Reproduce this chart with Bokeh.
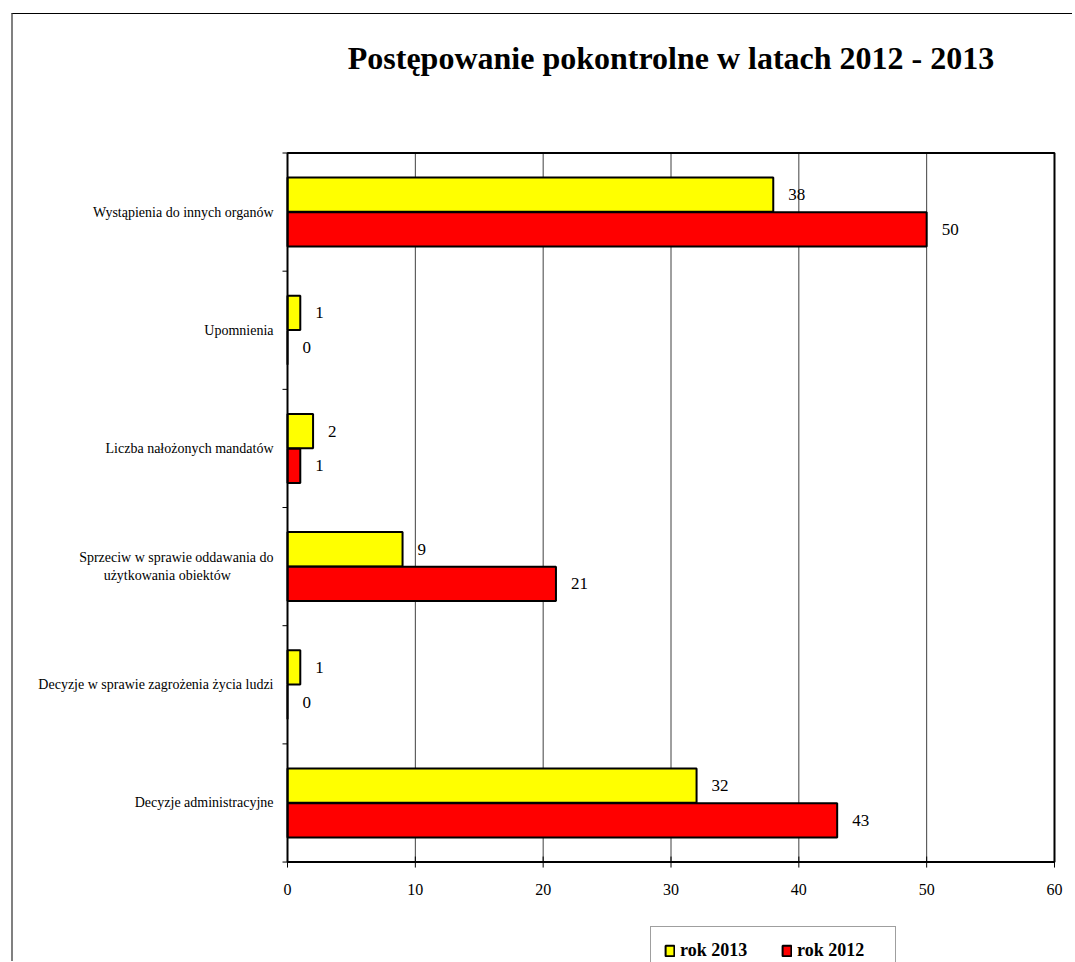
from bokeh.plotting import figure
from bokeh.models import ColumnDataSource, Range1d, LabelSet, Legend, LegendItem, Label
from bokeh.transform import dodge
from bokeh.embed import file_html
from bokeh.resources import INLINE
import math

NB = "\u00a0"
categories = [
    "Decyzje administracyjne",
    "Decyzje w sprawie zagrożenia życia ludzi",
    "Sprzeciw w sprawie oddawania do\n" + NB * 7 + "użytkowania obiektów",
    "Liczba nałożonych mandatów",
    "Upomnienia",
    "Wystąpienia do innych organów",
]
v2013 = [32, 1, 9, 2, 1, 38]
v2012 = [43, 0, 21, 1, 0, 50]
x_ticks = [0, 10, 20, 30, 40, 50, 60]
series_names = ["rok 2013", "rok 2012"]
title_text = "Postępowanie pokontrolne w latach 2012 - 2013"

n = len(categories)
ypos = [i + 0.5 for i in range(n)]
src = ColumnDataSource(dict(
    y=ypos, cat=categories, v2013=v2013, v2012=v2012,
    t2013=[str(v) for v in v2013], t2012=[str(v) for v in v2012],
))
tick_src = ColumnDataSource(dict(x=x_ticks, y=[0] * len(x_ticks),
                                 top=[n] * len(x_ticks),
                                 t=[str(v) for v in x_ticks]))
bounds = list(range(n + 1))

SERIF = "Liberation Serif"
xmin, xmax = x_ticks[0], x_ticks[-1]
PX = 12.783            # pixels per x unit (style constant)
TICK = 5 / PX          # outward tick length in x units

# the frame covers the whole canvas; the plot box is drawn from the data ranges
p = figure(width=1061, height=948, output_backend="svg", toolbar_location=None,
           x_range=Range1d(xmin - 274 / PX, xmax + 20 / PX),
           y_range=Range1d(-0.850, n + 1.172),
           min_border_left=0, min_border_right=0, min_border_top=0,
           min_border_bottom=0)
p.styles = {"border-left": "2px solid #808080", "border-top": "1px solid black",
            "margin-left": "11px", "margin-top": "13px"}

p.outline_line_color = None
p.background_fill_color = "white"
p.border_fill_color = "white"
p.xaxis.visible = False
p.yaxis.visible = False
p.xgrid.grid_line_color = None
p.ygrid.grid_line_color = None

# vertical gridlines
p.segment(x0="x", y0="y", x1="x", y1="top", source=tick_src,
          line_color="#404040", line_width=1)

BAR_H = 0.29
OFF = 0.147
r13 = p.hbar(y=dodge("y", OFF), right="v2013", left=0, height=BAR_H, source=src,
             fill_color="#FFFF00", line_color="black", line_width=2)
r12 = p.hbar(y=dodge("y", -OFF), right="v2012", left=0, height=BAR_H, source=src,
             fill_color="#FF0000", line_color="black", line_width=2)

# plot box
p.quad(left=[xmin], right=[xmax], bottom=[0], top=[n], fill_color=None,
       line_color="black", line_width=2)

# y ticks at category boundaries (outward)
p.segment(x0=[xmin] * len(bounds), y0=bounds, x1=[xmin - TICK] * len(bounds),
          y1=bounds, line_color="black", line_width=1)

# category labels
p.add_layout(LabelSet(x=xmin, y="y", text="cat", source=src, x_offset=-14,
                      text_align="right", text_baseline="middle",
                      text_font=SERIF, text_font_size="14px", text_color="black"))

# x ticks and labels
p.scatter(x="x", y="y", source=tick_src, marker="dash", angle=math.pi / 2, size=11,
          line_color="black", line_width=1)
p.add_layout(LabelSet(x="x", y="y", text="t", source=tick_src, y_offset=-27,
                      text_align="center", text_baseline="middle",
                      text_font="Liberation Sans", text_font_size="16px",
                      text_color="black"))

lbl_font = "17px"
p.add_layout(LabelSet(x="v2013", y=dodge("y", OFF), text="t2013", source=src,
                      x_offset=15, text_baseline="middle", text_font=SERIF,
                      text_font_size=lbl_font, text_color="black"))
p.add_layout(LabelSet(x="v2012", y=dodge("y", -OFF), text="t2012", source=src,
                      x_offset=15, text_baseline="middle", text_font=SERIF,
                      text_font_size=lbl_font, text_color="black"))

# title
p.add_layout(Label(x=(xmin + xmax) / 2, y=n + 0.80, text=title_text,
                   text_align="center", text_baseline="alphabetic",
                   text_font=SERIF, text_font_size="32px", text_font_style="bold",
                   text_color="black"))

legend = Legend(items=[LegendItem(label=series_names[0], renderers=[r13]),
                       LegendItem(label=series_names[1], renderers=[r12])],
                orientation="horizontal", location=(637, -13),
                label_text_font=SERIF, label_text_font_size="18px",
                label_text_font_style="bold", label_text_color="black",
                glyph_width=11, glyph_height=13, spacing=16, padding=13,
                margin=0, border_line_color="#404040", border_line_width=1,
                label_standoff=5, label_width=85)
p.add_layout(legend, "center")

open("out.html", "w").write(file_html(p, INLINE))
